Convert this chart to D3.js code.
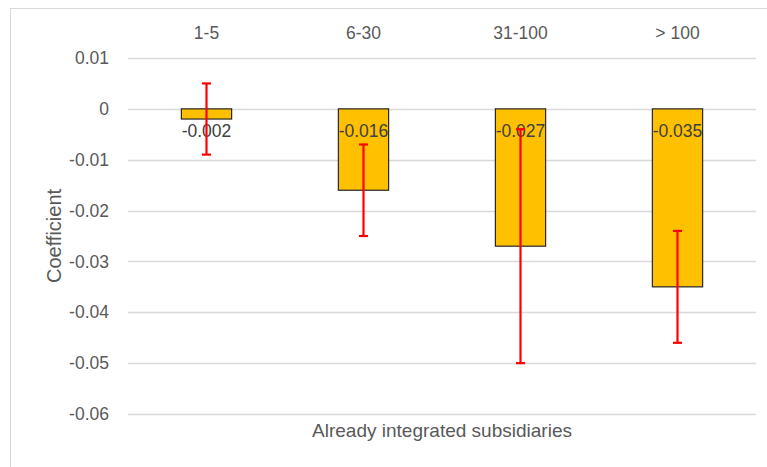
<!DOCTYPE html>
<html>
<head>
<meta charset="utf-8">
<script src="https://cdn.jsdelivr.net/npm/d3@7"></script>
<style>
  body { margin: 0; background: #fff; }
  text { font-family: "Liberation Sans", Arial, sans-serif; }
</style>
</head>
<body>
<div id="chart"></div>
<script>
// chart values
const categories = ["1-5", "6-30", "31-100", "> 100"];
const coefficients = [-0.002, -0.016, -0.027, -0.035];
const errorHigh = [0.005, -0.007, -0.004, -0.024];
const errorLow = [-0.009, -0.025, -0.050, -0.046];
const yTicks = [0.01, 0, -0.01, -0.02, -0.03, -0.04, -0.05, -0.06];

const width = 767;
const height = 467;
const margin = {top: 58, right: 11, bottom: 53, left: 128};

const svg = d3.select('#chart')
    .append('svg')
    .attr('width', width)
    .attr('height', height);

// outer chart border (runs off the right and bottom of the view)
svg.append('rect')
    .attr('x', 10.5)
    .attr('y', 8.5)
    .attr('width', width + 20)
    .attr('height', height + 20)
    .attr('fill', 'none')
    .attr('stroke', '#d9d9d9');

const x = d3.scaleBand()
    .domain(categories)
    .range([margin.left, width - margin.right])
    .paddingInner(0.68)
    .paddingOuter(0.34);

const y = d3.scaleLinear()
    .domain([-0.06, 0.01])
    .range([height - margin.bottom, margin.top]);

// gridlines
svg.append('g')
    .selectAll('line')
    .data(yTicks)
    .join('line')
    .attr('x1', margin.left)
    .attr('x2', width - margin.right)
    .attr('y1', d => Math.round(y(d)) + 0.5)
    .attr('y2', d => Math.round(y(d)) + 0.5)
    .attr('stroke', '#d9d9d9')
    .attr('stroke-width', 1.3);

// y axis labels
const yAxis = d3.axisLeft(y)
    .tickValues(yTicks)
    .tickSize(0)
    .tickPadding(19)
    .tickFormat(d => d === 0 ? '0' : d3.format('.2f')(d).replace('−', '-'));

svg.append('g')
    .attr('transform', `translate(${margin.left},0)`)
    .call(yAxis)
    .call(g => g.select('.domain').remove())
    .selectAll('text')
    .attr('fill', '#595959')
    .style('font-size', '17.5px');

// category labels along the top
svg.append('g')
    .selectAll('text')
    .data(categories)
    .join('text')
    .attr('x', d => x(d) + x.bandwidth() / 2)
    .attr('y', 39)
    .attr('text-anchor', 'middle')
    .attr('fill', '#595959')
    .style('font-size', '17.5px')
    .text(d => d);

// bars
svg.append('g')
    .selectAll('rect')
    .data(coefficients)
    .join('rect')
    .attr('x', (d, i) => x(categories[i]))
    .attr('y', y(0))
    .attr('width', x.bandwidth())
    .attr('height', d => y(d) - y(0))
    .attr('fill', '#ffc000')
    .attr('stroke', '#262626')
    .attr('stroke-width', 1.2);

// data labels
svg.append('g')
    .selectAll('text')
    .data(coefficients)
    .join('text')
    .attr('x', (d, i) => x(categories[i]) + x.bandwidth() / 2)
    .attr('y', y(0) + 28.5)
    .attr('text-anchor', 'middle')
    .attr('fill', '#404040')
    .style('font-size', '17.5px')
    .text(d => d3.format('.3f')(d).replace('−', '-'));

// error bars
const errors = svg.append('g')
    .attr('stroke', '#ff0000')
    .attr('stroke-width', 2.2);

categories.forEach((c, i) => {
    const cx = x(c) + x.bandwidth() / 2;
    errors.append('line')
        .attr('x1', cx).attr('x2', cx)
        .attr('y1', y(errorHigh[i])).attr('y2', y(errorLow[i]));
    [errorHigh[i], errorLow[i]].forEach(v => {
        errors.append('line')
            .attr('x1', cx - 4.5).attr('x2', cx + 4.5)
            .attr('y1', y(v)).attr('y2', y(v));
    });
});

// axis titles
svg.append('text')
    .attr('x', (margin.left + width - margin.right) / 2)
    .attr('y', 437)
    .attr('text-anchor', 'middle')
    .attr('fill', '#595959')
    .attr('textLength', 260)
    .attr('lengthAdjust', 'spacingAndGlyphs')
    .style('font-size', '19px')
    .text('Already integrated subsidiaries');

svg.append('text')
    .attr('transform', `translate(61,${(margin.top + height - margin.bottom) / 2}) rotate(-90)`)
    .attr('text-anchor', 'middle')
    .attr('fill', '#595959')
    .style('font-size', '20px')
    .text('Coefficient');
</script>
</body>
</html>
